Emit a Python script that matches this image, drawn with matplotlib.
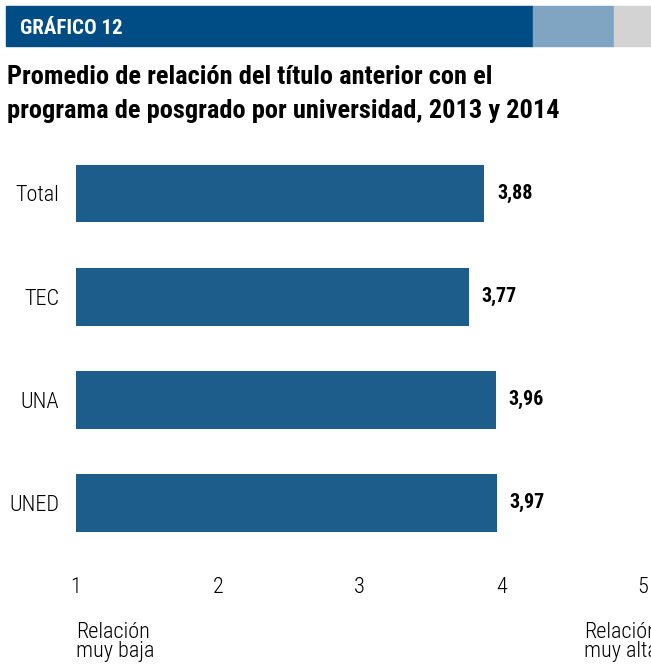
import matplotlib.pyplot as plt
from matplotlib.patches import Rectangle

plt.rcParams['font.family'] = ['Roboto Condensed', 'DejaVu Sans']

# Datos
universidades = ['Total', 'TEC', 'UNA', 'UNED']
promedios = [3.88, 3.77, 3.96, 3.97]
etiquetas = ['3,88', '3,77', '3,96', '3,97']
ticks = [1, 2, 3, 4, 5]

W, H = 651, 664
fig = plt.figure(figsize=(W / 100, H / 100), dpi=100)

# Franja del encabezado
fig.patches.append(Rectangle((6 / W, 1 - 46 / H), 527 / W, 40 / H, transform=fig.transFigure,
                             color='#004c84', zorder=0))
fig.patches.append(Rectangle((533 / W, 1 - 46 / H), 81 / W, 40 / H, transform=fig.transFigure,
                             color='#7fa5c3', zorder=0))
fig.patches.append(Rectangle((614 / W, 1 - 46 / H), 37 / W, 40 / H, transform=fig.transFigure,
                             color='#d3d3d3', zorder=0))
fig.text(20 / W, 1 - 28 / H, 'GRÁFICO 12', color='white', fontsize=15, fontweight='bold',
         va='center', ha='left')

# Título
fig.text(7 / W, 1 - 77 / H, 'Promedio de relación del título anterior con el',
         fontsize=19, fontweight='bold', va='center', ha='left')
fig.text(7 / W, 1 - 111 / H, 'programa de posgrado por universidad, 2013 y 2014',
         fontsize=19, fontweight='bold', va='center', ha='left')

# Ejes
left, right = 76, 643
top, bottom = 131.6, 564.8
ax = fig.add_axes([left / W, 1 - bottom / H, (right - left) / W, (bottom - top) / H])
ypos = list(range(len(universidades)))
ax.barh(ypos, [p - 1 for p in promedios], left=1, height=0.56, color='#1c5d8b')
for y, p, t in zip(ypos, promedios, etiquetas):
    ax.text(p + 0.09, y, t, va='center', ha='left', fontsize=14.5, fontweight='bold')

ax.set_xlim(1, 5)
ax.set_ylim(3.6, -0.6)
ax.set_yticks(ypos)
ax.set_yticklabels(universidades, fontsize=16, fontweight='light')
ax.set_xticks(ticks)
ax.set_xticklabels([str(t) for t in ticks], fontsize=16, fontweight='light')
ax.tick_params(axis='both', length=0)
ax.tick_params(axis='x', pad=9)
ax.tick_params(axis='y', pad=12)
for s in ax.spines.values():
    s.set_visible(False)

fig.text(76 / W, 1 - 642 / H, 'Relación\nmuy baja', fontsize=16, fontweight='light',
         va='center', ha='left', linespacing=0.85)
fig.text(584 / W, 1 - 642 / H, 'Relación\nmuy alta', fontsize=16, fontweight='light',
         va='center', ha='left', linespacing=0.85)

fig.savefig('out.png', dpi=100)
